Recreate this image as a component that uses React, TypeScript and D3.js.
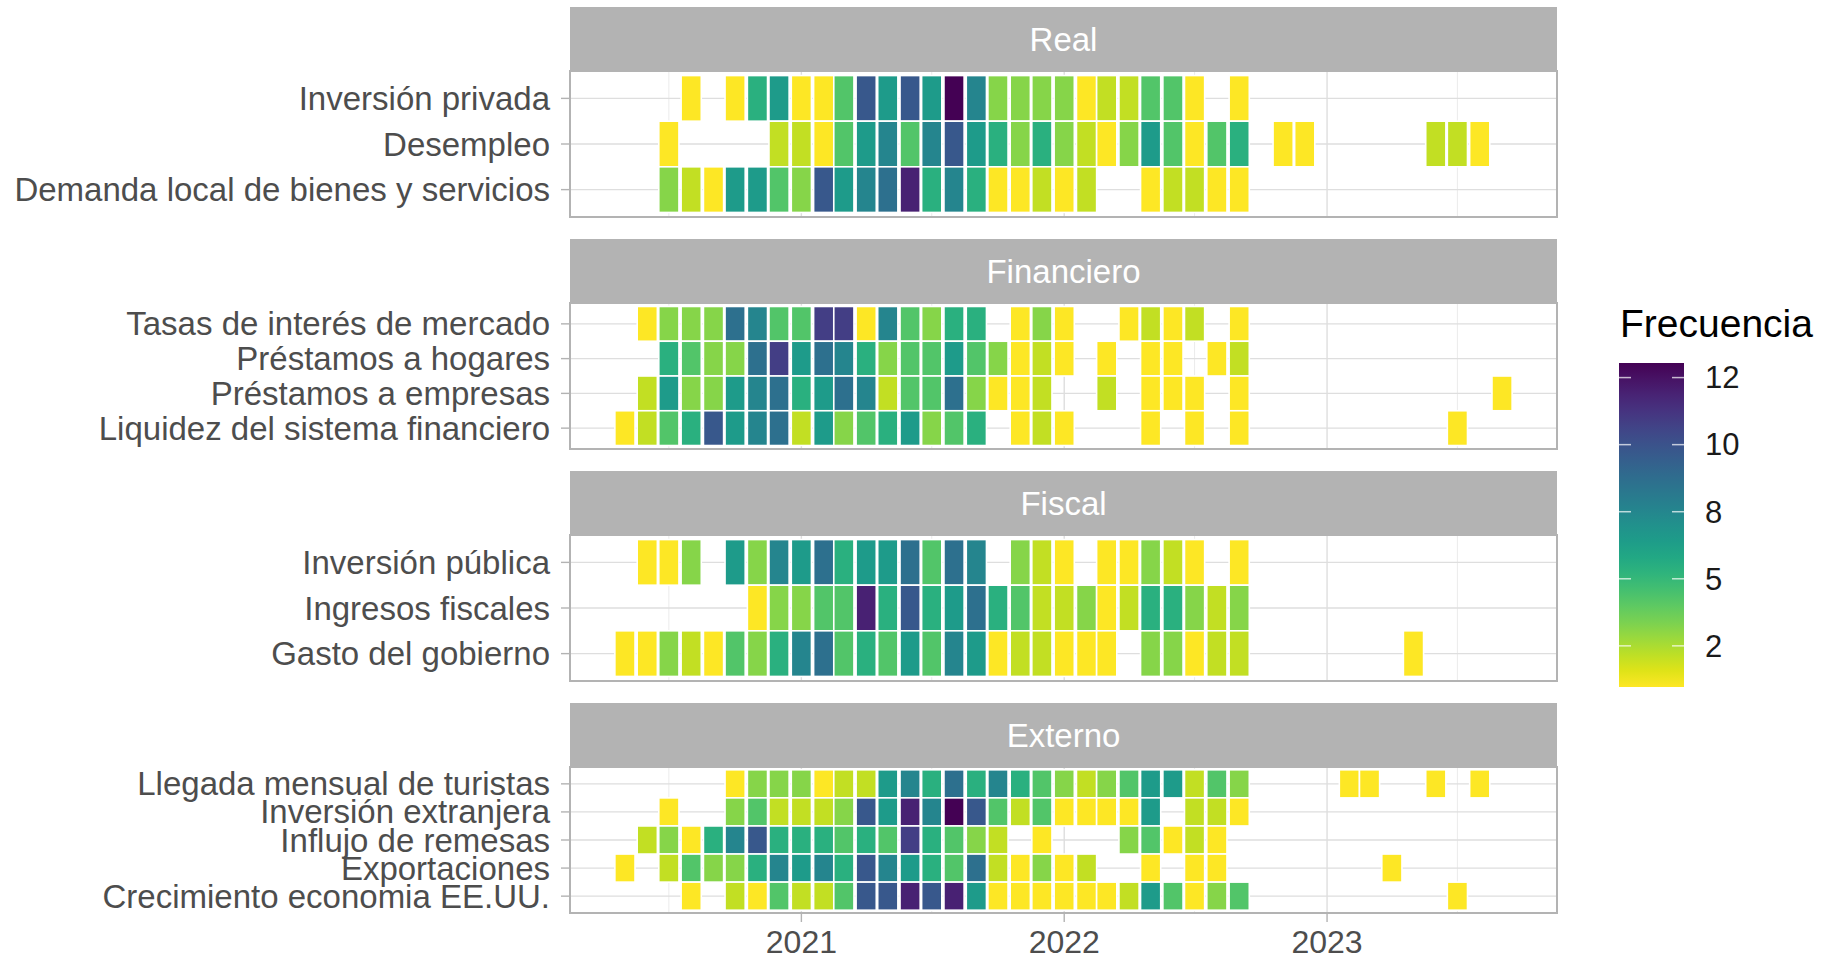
import React from "react";
import * as d3 from "d3";

// frecuencia mensual de mención por variable, a partir de mayo 2020 (0 = sin mención)
const startMonth = new Date(Date.UTC(2020, 4, 1));

const panelNames = ["Real", "Financiero", "Fiscal", "Externo"];

const realRows = ["Inversión privada", "Desempleo", "Demanda local de bienes y servicios"];
const financieroRows = ["Tasas de interés de mercado", "Préstamos a hogares", "Préstamos a empresas", "Liquidez del sistema financiero"];
const fiscalRows = ["Inversión pública", "Ingresos fiscales", "Gasto del gobierno"];
const externoRows = ["Llegada mensual de turistas", "Inversión extranjera", "Influjo de remesas", "Exportaciones", "Crecimiento economia EE.UU."];

const inversionPrivada = [0,0,0,1,0,1,5,6,1,1, 4,9,6,9,6,12,7,3,3,3, 3,1,2,2,4,4,1,0,1,0, 0,0,0,0,0,0,0,0,0,0, 0];
const desempleo = [0,0,1,0,0,0,0,2,2,1, 4,6,7,4,7,9,6,5,3,5, 3,2,1,3,6,4,1,4,5,0, 1,1,0,0,0,0,0,2,2,1, 0];
const demandaLocal = [0,0,3,2,1,6,6,4,3,9, 6,7,8,11,5,7,5,1,1,2, 1,2,0,0,1,2,2,1,1,0, 0,0,0,0,0,0,0,0,0,0, 0];

const tasasInteres = [0,1,3,3,3,8,7,4,4,10, 10,1,7,4,3,5,5,0,1,3, 1,0,0,1,2,1,2,0,1,0, 0,0,0,0,0,0,0,0,0,0, 0];
const prestamosHogares = [0,0,5,4,3,3,8,10,6,8, 7,5,3,4,4,6,4,3,1,2, 1,0,1,0,1,1,0,1,2,0, 0,0,0,0,0,0,0,0,0,0, 0];
const prestamosEmpresas = [0,2,6,3,3,6,7,8,5,6, 8,7,2,4,4,8,3,1,1,2, 0,0,2,0,1,1,1,0,1,0, 0,0,0,0,0,0,0,0,0,0, 1];
const liquidez = [1,2,4,5,9,6,7,8,2,6, 3,4,5,6,3,4,5,0,1,2, 1,0,0,0,1,0,1,0,1,0, 0,0,0,0,0,0,0,0,1,0, 0];

const inversionPublica = [0,1,1,3,0,6,3,7,6,8, 5,6,6,8,4,8,7,0,3,2, 1,0,1,1,3,2,1,0,1,0, 0,0,0,0,0,0,0,0,0,0, 0];
const ingresosFiscales = [0,0,0,0,0,0,1,3,3,4, 4,11,5,9,5,6,8,5,4,2, 2,3,1,2,5,5,3,2,3,0, 0,0,0,0,0,0,0,0,0,0, 0];
const gastoGobierno = [1,1,3,2,1,4,3,5,7,8, 4,5,4,6,4,7,6,1,2,2, 1,1,1,0,3,3,1,2,2,0, 0,0,0,0,0,0,1,0,0,0, 0];

const llegadaTuristas = [0,0,0,0,0,1,3,3,3,1, 2,2,6,7,5,8,5,7,5,4, 3,2,3,4,6,6,2,4,3,0, 0,0,0,1,1,0,0,1,0,1, 0];
const inversionExtranjera = [0,0,1,0,0,3,4,2,2,2, 3,9,6,11,7,12,9,4,2,4, 1,1,1,1,6,0,2,2,1,0, 0,0,0,0,0,0,0,0,0,0, 0];
const influjoRemesas = [0,2,3,1,5,7,9,5,5,5, 4,5,4,10,5,4,3,2,0,1, 0,0,0,3,4,1,2,1,0,0, 0,0,0,0,0,0,0,0,0,0, 0];
const exportaciones = [1,0,2,4,3,3,5,7,6,7, 5,9,7,6,5,4,8,2,1,3, 1,2,0,0,1,0,1,1,0,0, 0,0,0,0,0,1,0,0,0,0, 0];
const crecimientoEEUU = [0,0,0,1,0,2,1,4,2,2, 4,9,9,11,9,11,6,1,1,1, 1,1,1,2,6,4,1,3,4,0, 0,0,0,0,0,0,0,0,1,0, 0];

const legendBreaks = [2, 5, 8, 10, 12];

const panelRows = [realRows, financieroRows, fiscalRows, externoRows];
const panelValues = [
  [inversionPrivada, desempleo, demandaLocal],
  [tasasInteres, prestamosHogares, prestamosEmpresas, liquidez],
  [inversionPublica, ingresosFiscales, gastoGobierno],
  [llegadaTuristas, inversionExtranjera, influjoRemesas, exportaciones, crecimientoEEUU],
];

const W = 1824, H = 960;
const plotLeft = 570, plotRight = 1557;
const firstStrip = 7, panelStep = 232, stripH = 64, panelH = 146;
const font = "'Liberation Sans', Arial, sans-serif";
const DAY = 864e5;

export default function App() {
  const cells = panelValues.map((rows, p) =>
    rows.flatMap((vals, r) =>
      vals
        .map((v, i) => ({ label: panelRows[p][r], date: d3.utcMonth.offset(startMonth, i), v }))
        .filter(d => d.v > 0)
    )
  );

  const allDates = cells.flat().map(d => d.date.getTime());
  const lo = (d3.min(allDates) as number) - 14 * DAY;
  const hi = (d3.max(allDates) as number) + 14 * DAY;
  const pad = (hi - lo) * 0.05;
  const x = d3.scaleUtc().domain([new Date(lo - pad), new Date(hi + pad)]).range([plotLeft, plotRight]);
  const majorTicks = x.ticks(d3.utcYear.every(1) as any);
  const minorTicks = d3.utcMonth.range(x.domain()[0], x.domain()[1]).filter(d => d.getUTCMonth() === 6);

  const color = d3.scaleSequential(d3.interpolateViridis).domain([12, 1]);

  // legend
  const barX = 1619, barW = 65, barTop = 363, barH = 324;
  const legendY = d3.scalePoint<string>()
    .domain(legendBreaks.map(String))
    .range([barTop + barH * 0.873, barTop + barH * 0.045]);
  const gradStops = d3.range(0, 1.0001, 0.05);

  const axisY = firstStrip + 3 * panelStep + stripH + panelH;

  return (
    <div style={{ position: "absolute", left: 0, top: 0 }}>
      <svg width={W} height={H} style={{ display: "block", background: "#fff" }} fontFamily={font}>
        <defs>
          <linearGradient id="viri" x1="0" y1="1" x2="0" y2="0">
            {gradStops.map(t => (
              <stop key={t} offset={t} stopColor={d3.interpolateViridis(1 - t)} />
            ))}
          </linearGradient>
        </defs>

        {panelNames.map((name, p) => {
          const stripTop = firstStrip + p * panelStep;
          const top = stripTop + stripH;
          const y = d3.scaleBand<string>()
            .domain(panelRows[p])
            .range([top, top + panelH])
            .paddingInner(0)
            .paddingOuter(0.1);
          return (
            <g key={name}>
              <rect x={plotLeft} y={stripTop} width={plotRight - plotLeft} height={stripH} fill="#b3b3b3" />
              <text x={(plotLeft + plotRight) / 2} y={stripTop + stripH / 2} dy="0.35em"
                textAnchor="middle" fill="#fff" fontSize={33}>{name}</text>

              {minorTicks.map(d => (
                <line key={"m" + d.getTime()} x1={x(d)} x2={x(d)} y1={top} y2={top + panelH}
                  stroke="#e6e6e6" strokeWidth={0.8} />
              ))}
              {majorTicks.map(d => (
                <line key={"M" + d.getTime()} x1={x(d)} x2={x(d)} y1={top} y2={top + panelH}
                  stroke="#dedede" strokeWidth={1.4} />
              ))}
              {panelRows[p].map(r => (
                <line key={r} x1={plotLeft} x2={plotRight}
                  y1={(y(r) as number) + y.bandwidth() / 2} y2={(y(r) as number) + y.bandwidth() / 2}
                  stroke="#dedede" strokeWidth={1.4} />
              ))}

              {cells[p].map(d => (
                <rect key={d.label + d.date.getTime()}
                  x={x(new Date(d.date.getTime() - 14 * DAY))}
                  width={x(new Date(d.date.getTime() + 14 * DAY)) - x(new Date(d.date.getTime() - 14 * DAY))}
                  y={y(d.label)} height={y.bandwidth()}
                  fill={color(d.v)} stroke="#fff" strokeWidth={1.6} />
              ))}

              <rect x={plotLeft} y={top} width={plotRight - plotLeft} height={panelH}
                fill="none" stroke="#b3b3b3" strokeWidth={2} />

              {panelRows[p].map(r => {
                const cy = (y(r) as number) + y.bandwidth() / 2;
                return (
                  <g key={"t" + r}>
                    <line x1={plotLeft - 9} x2={plotLeft} y1={cy} y2={cy} stroke="#b3b3b3" strokeWidth={1.4} />
                    <text x={550} y={cy} dy="0.35em" textAnchor="end" fill="#4d4d4d" fontSize={33}>{r}</text>
                  </g>
                );
              })}
            </g>
          );
        })}

        {majorTicks.map(d => (
          <g key={"x" + d.getTime()}>
            <line x1={x(d)} x2={x(d)} y1={axisY} y2={axisY + 9} stroke="#b3b3b3" strokeWidth={1.4} />
            <text x={x(d)} y={953} textAnchor="middle" fill="#4d4d4d" fontSize={32}>
              {d3.utcFormat("%Y")(d)}
            </text>
          </g>
        ))}

        <text x={1620} y={337} fill="#000" fontSize={39}>Frecuencia</text>
        <rect x={barX} y={barTop} width={barW} height={barH} fill="url(#viri)" />
        {legendBreaks.map(b => {
          const ty = legendY(String(b)) as number;
          return (
            <g key={b}>
              <line x1={barX} x2={barX + 12} y1={ty} y2={ty} stroke="#fff" strokeOpacity={0.7} strokeWidth={1.5} />
              <line x1={barX + barW - 12} x2={barX + barW} y1={ty} y2={ty} stroke="#fff" strokeOpacity={0.7} strokeWidth={1.5} />
              <text x={1705} y={ty} dy="0.35em" fill="#1a1a1a" fontSize={31}>{b}</text>
            </g>
          );
        })}
      </svg>
    </div>
  );
}
